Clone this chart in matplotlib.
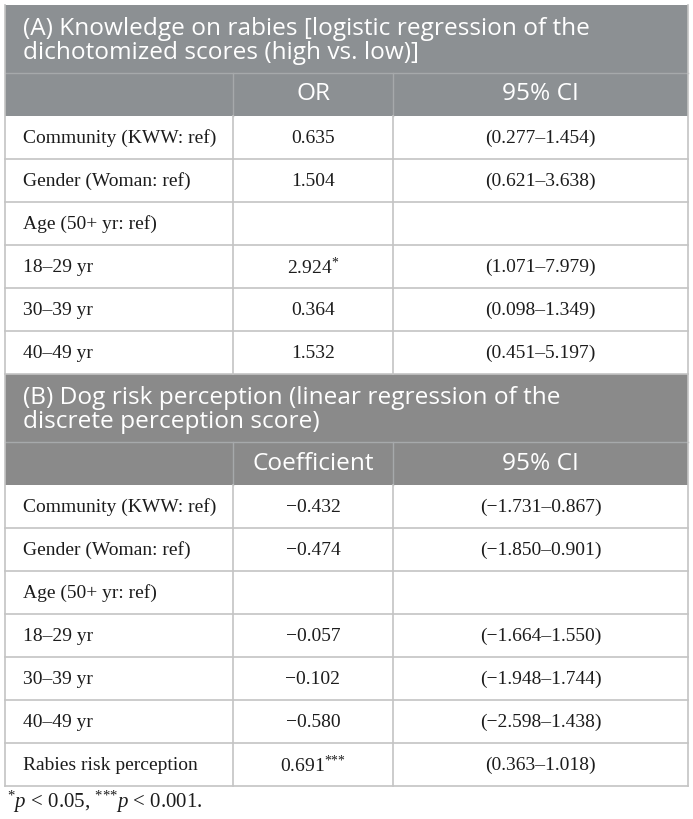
import matplotlib
matplotlib.use("Agg")
import matplotlib.pyplot as plt
from matplotlib.patches import Rectangle

plt.rcParams['mathtext.fontset'] = 'custom'
plt.rcParams['mathtext.rm'] = 'Liberation Serif'
plt.rcParams['mathtext.it'] = 'Liberation Serif:italic'

# table contents
title_a = "(A) Knowledge on rabies [logistic regression of the\ndichotomized scores (high vs. low)]"
header_a = ["OR", "95% CI"]
labels_a = ["Community (KWW: ref)", "Gender (Woman: ref)", "Age (50+ yr: ref)",
            "18–29 yr", "30–39 yr", "40–49 yr"]
or_a = ["0.635", "1.504", "", "2.924*", "0.364", "1.532"]
ci_a = ["(0.277–1.454)", "(0.621–3.638)", "", "(1.071–7.979)",
        "(0.098–1.349)", "(0.451–5.197)"]

title_b = "(B) Dog risk perception (linear regression of the\ndiscrete perception score)"
header_b = ["Coefficient", "95% CI"]
labels_b = ["Community (KWW: ref)", "Gender (Woman: ref)", "Age (50+ yr: ref)",
            "18–29 yr", "30–39 yr", "40–49 yr", "Rabies risk perception"]
coef_b = ["−0.432", "−0.474", "", "−0.057", "−0.102", "−0.580", "0.691***"]
ci_b = ["(−1.731–0.867)", "(−1.850–0.901)", "", "(−1.664–1.550)",
        "(−1.948–1.744)", "(−2.598–1.438)", "(0.363–1.018)"]

footnote = r"$^{*}p$ < 0.05, $^{{*}{*}{*}}p$ < 0.001."

# layout in pixels
W, H = 693, 819
left, right = 5, 688
c1, c2 = 233, 393
title_h, header_h, row_h = 68, 43, 43
body_font = 'Liberation Serif'
head_font = 'Open Sans'
body_size = 14
head_size = 17.6
ink = '#1c1c1c'
grid = '#c4c4c4'
band_line = '#a6a9ab'

fig = plt.figure(figsize=(W / 100, H / 100), dpi=100)
ax = fig.add_axes([0, 0, 1, 1])
ax.set_xlim(0, W)
ax.set_ylim(H, 0)
ax.axis('off')


def cell_text(x, y, s):
    # trailing stars become a superscript
    stars = len(s) - len(s.rstrip('*'))
    if stars:
        s = s[:-stars] + r"$^{" + "{*}" * stars + "}$"
    ax.text(x, y, s, ha='center', va='center', fontsize=body_size,
            family=body_font, color=ink)


def draw_section(y0, title, header, labels, vals, cis, band):
    # title band
    ax.add_patch(Rectangle((left, y0), right - left, title_h, color=band, lw=0))
    ax.text(left + 18, y0 + title_h / 2 + 2, title, ha='left', va='center',
            fontsize=head_size, family=head_font, color='white', linespacing=1.0)
    # header band
    yh = y0 + title_h
    ax.add_patch(Rectangle((left, yh), right - left, header_h, color=band, lw=0))
    ax.plot([left, right], [yh, yh], color=band_line, lw=1)
    ax.plot([c1, c1], [yh, yh + header_h], color=band_line, lw=1)
    ax.plot([c2, c2], [yh, yh + header_h], color=band_line, lw=1)
    ax.text((c1 + c2) / 2, yh + header_h / 2, header[0], ha='center', va='center',
            fontsize=head_size, family=head_font, color='white')
    ax.text((c2 + right) / 2, yh + header_h / 2, header[1], ha='center', va='center',
            fontsize=head_size, family=head_font, color='white')
    # body rows
    yb = yh + header_h
    n = len(labels)
    for i in range(n):
        yc = yb + i * row_h + row_h / 2 + 1
        ax.text(left + 18, yc, labels[i], ha='left', va='center', fontsize=body_size,
                family=body_font, color=ink)
        if vals[i]:
            cell_text((c1 + c2) / 2, yc, vals[i])
        if cis[i]:
            cell_text((c2 + right) / 2, yc, cis[i])
        ax.plot([left, right], [yb + (i + 1) * row_h] * 2, color=grid, lw=1.2)
    ax.plot([c1, c1], [yb, yb + n * row_h], color=grid, lw=1.2)
    ax.plot([c2, c2], [yb, yb + n * row_h], color=grid, lw=1.2)
    ax.plot([left, left], [y0, yb + n * row_h], color=grid, lw=1.2)
    ax.plot([right, right], [y0, yb + n * row_h], color=grid, lw=1.2)
    return yb + n * row_h


y = draw_section(5, title_a, header_a, labels_a, or_a, ci_a, '#8c9093')
y = draw_section(y, title_b, header_b, labels_b, coef_b, ci_b, '#8a8a8a')

ax.text(left + 2, y + 16, footnote, ha='left', va='center', fontsize=15,
        family=body_font, color=ink)

fig.savefig('out.png', dpi=100)
